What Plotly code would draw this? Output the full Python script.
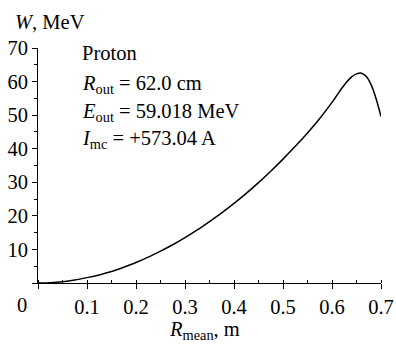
import plotly.graph_objects as go

# Data
r_mean = [0, 0.025, 0.05, 0.075, 0.1, 0.125, 0.15, 0.175, 0.2, 0.225, 0.25, 0.275,
          0.3, 0.325, 0.35, 0.375, 0.4, 0.425, 0.45, 0.475, 0.5, 0.525, 0.55, 0.575,
          0.6, 0.61, 0.62, 0.63, 0.64, 0.65, 0.66, 0.67, 0.68, 0.69, 0.7]
w_mev = [0, 0.1, 0.4, 0.9, 1.6, 2.4, 3.4, 4.7, 6.1, 7.7, 9.5, 11.4,
         13.5, 15.8, 18.3, 20.9, 23.7, 26.7, 29.9, 33.3, 36.9, 40.7, 44.7, 49.0,
         53.8, 55.9, 58.0, 59.9, 61.4, 62.3, 62.5, 61.5, 59.0, 54.9, 49.6]

x_ticks = [0, 0.1, 0.2, 0.3, 0.4, 0.5, 0.6, 0.7]
x_labels = ["", "0.1", "0.2", "0.3", "0.4", "0.5", "0.6", "0.7"]
y_ticks = [0, 10, 20, 30, 40, 50, 60, 70]
y_labels = ["", "10", "20", "30", "40", "50", "60", "70"]

info_lines = ["Proton",
              "<i>R</i><sub>out</sub> = 62.0 cm",
              "<i>E</i><sub>out</sub> = 59.018 MeV",
              "<i>I</i><sub>mc</sub> = +573.04 A"]
info_y = [68.6, 59.2, 50.8, 42.8]

FONT = "Liberation Serif"
FS = 20.5

fig = go.Figure()
fig.add_trace(go.Scatter(x=r_mean, y=w_mev, mode="lines",
                         line=dict(color="black", width=1.5, shape="spline", smoothing=0.8),
                         showlegend=False, hoverinfo="skip", cliponaxis=False))

for txt, yy in zip(info_lines, info_y):
    fig.add_annotation(x=0.0857, y=yy, xref="x", yref="y", text=txt, showarrow=False,
                       xanchor="left", yanchor="middle",
                       font=dict(family=FONT, size=FS, color="black"))

fig.add_annotation(x=-0.073, y=1.111, xref="paper", yref="paper",
                   text="<i>W</i>, MeV", showarrow=False, xanchor="left", yanchor="middle",
                   font=dict(family=FONT, size=FS, color="black"))
fig.add_annotation(x=0.376, y=-0.2, xref="paper", yref="paper",
                   text="<i>R</i><sub>mean</sub>, m", showarrow=False, xanchor="left", yanchor="middle",
                   font=dict(family=FONT, size=FS, color="black"))
fig.add_annotation(x=-0.0466, y=-0.094, xref="paper", yref="paper",
                   text="0", showarrow=False, xanchor="center", yanchor="middle",
                   font=dict(family=FONT, size=FS, color="black"))

fig.update_layout(
    width=396, height=345, autosize=False,
    margin=dict(l=38, r=15, t=48, b=62, pad=0, autoexpand=False),
    plot_bgcolor="white", paper_bgcolor="white",
    font=dict(family=FONT, size=FS, color="black"),
    xaxis=dict(range=[0, 0.7], tickvals=x_ticks, ticktext=x_labels, automargin=False,
               showgrid=False, zeroline=False, showline=True, linecolor="black", linewidth=1,
               ticks="outside", ticklen=5, tickwidth=1, tickcolor="black",
               minor=dict(dtick=0.05, ticks="inside", ticklen=3, tickwidth=1, tickcolor="black"),
               tickfont=dict(family=FONT, size=FS, color="black")),
    yaxis=dict(range=[0, 70], tickvals=y_ticks, ticktext=y_labels, automargin=False,
               showgrid=False, zeroline=False, showline=True, linecolor="black", linewidth=1,
               ticks="outside", ticklen=5, tickwidth=1, tickcolor="black",
               minor=dict(dtick=5, ticks="outside", ticklen=3, tickwidth=1, tickcolor="black"),
               tickfont=dict(family=FONT, size=FS, color="black")),
)

fig.write_html("out.html")
